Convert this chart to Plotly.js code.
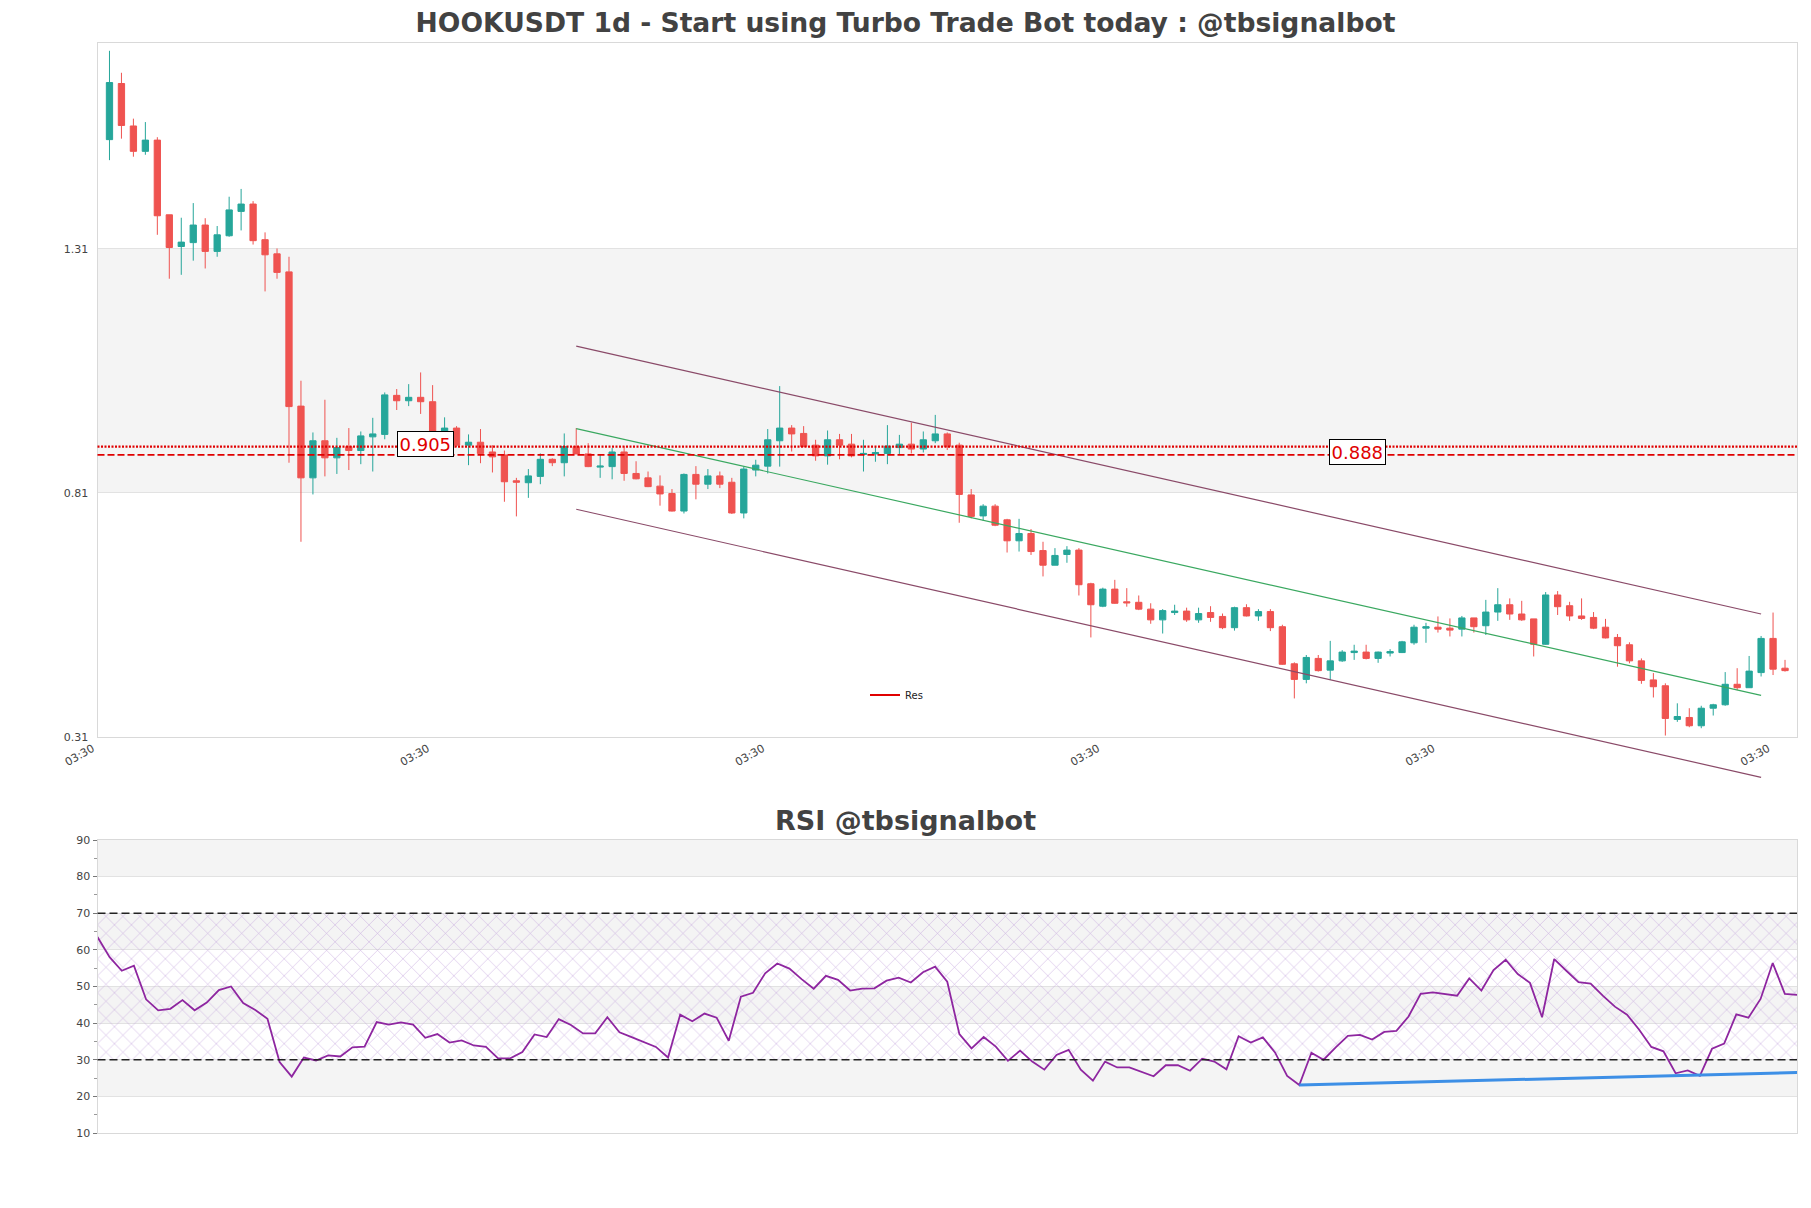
<!DOCTYPE html>
<html>
<head>
<meta charset="utf-8">
<script src="https://cdn.plot.ly/plotly-3.0.1.min.js"></script>
<style>html,body{margin:0;padding:0;background:#fff;}#chart{width:1811px;height:1208px;}</style>
</head>
<body>
<div id="chart"></div>
<script>
// ---------------- data ----------------
const startDate = '2024-03-30';          // first daily candle (03:30 local)
const open = [1.534,1.649,1.562,1.510,1.533,1.380,1.315,1.323,1.359,1.305, 1.337,1.387,1.402,1.329,1.300,1.263,0.988,0.841,0.917,0.882, 0.905,0.897,0.925,0.930,1.010,0.999,1.006,0.997,0.936,0.943, 0.908,0.914,0.894,0.888,0.835,0.831,0.844,0.879,0.872,0.905, 0.890,0.863,0.864,0.894,0.850,0.841,0.824,0.809,0.773,0.848, 0.828,0.845,0.832,0.769,0.857,0.865,0.917,0.943,0.932,0.908, 0.886,0.919,0.910,0.889,0.890,0.891,0.903,0.910,0.900,0.917, 0.931,0.908,0.806,0.763,0.783,0.755,0.712,0.727,0.692,0.662, 0.684,0.693,0.624,0.578,0.613,0.587,0.586,0.572,0.550,0.565, 0.568,0.550,0.565,0.557,0.534,0.575,0.558,0.567,0.536,0.460, 0.428,0.471,0.447,0.466,0.483,0.484,0.471,0.482,0.483,0.503, 0.533,0.535,0.533,0.531,0.554,0.538,0.566,0.581,0.562,0.552, 0.500,0.601,0.579,0.558,0.555,0.535,0.514,0.499,0.466,0.427, 0.415,0.346,0.350,0.333,0.369,0.376,0.418,0.411,0.442,0.512, 0.451];
const high = [1.716,1.671,1.577,1.570,1.539,1.380,1.374,1.404,1.373,1.357, 1.417,1.433,1.408,1.344,1.311,1.294,1.040,0.934,1.001,0.923, 0.943,0.936,0.964,1.016,1.023,1.033,1.057,1.031,0.965,0.947, 0.930,0.941,0.908,0.897,0.841,0.859,0.891,0.881,0.932,0.943, 0.912,0.889,0.902,0.906,0.875,0.854,0.846,0.818,0.850,0.865, 0.859,0.854,0.841,0.864,0.878,0.941,1.029,0.949,0.947,0.919, 0.938,0.931,0.931,0.919,0.905,0.949,0.929,0.954,0.936,0.970, 0.934,0.913,0.818,0.787,0.787,0.757,0.757,0.736,0.710,0.697, 0.701,0.697,0.626,0.616,0.632,0.615,0.600,0.584,0.572,0.581, 0.575,0.575,0.578,0.563,0.577,0.582,0.572,0.572,0.540,0.463, 0.478,0.478,0.507,0.488,0.499,0.499,0.485,0.490,0.507,0.540, 0.544,0.557,0.553,0.558,0.554,0.591,0.615,0.594,0.589,0.552, 0.607,0.609,0.587,0.594,0.566,0.552,0.521,0.504,0.471,0.441, 0.420,0.379,0.369,0.374,0.378,0.443,0.451,0.476,0.517,0.565, 0.468];
const low = [1.492,1.536,1.499,1.503,1.339,1.249,1.257,1.286,1.270,1.294, 1.335,1.348,1.319,1.223,1.249,0.872,0.710,0.807,0.844,0.849, 0.857,0.869,0.854,0.920,0.980,0.988,0.972,0.919,0.927,0.904, 0.867,0.871,0.852,0.792,0.762,0.800,0.828,0.865,0.844,0.890, 0.863,0.841,0.838,0.835,0.838,0.822,0.784,0.772,0.768,0.797, 0.818,0.820,0.767,0.758,0.844,0.850,0.864,0.895,0.904,0.876, 0.868,0.879,0.883,0.854,0.874,0.869,0.890,0.891,0.893,0.912, 0.898,0.749,0.758,0.753,0.742,0.688,0.690,0.683,0.639,0.662, 0.667,0.600,0.514,0.576,0.583,0.577,0.570,0.542,0.522,0.560, 0.546,0.544,0.546,0.531,0.528,0.557,0.548,0.527,0.458,0.389, 0.420,0.444,0.427,0.464,0.468,0.469,0.462,0.475,0.482,0.499, 0.503,0.524,0.516,0.516,0.524,0.519,0.548,0.550,0.548,0.475, 0.499,0.560,0.548,0.550,0.531,0.512,0.454,0.461,0.419,0.391, 0.313,0.341,0.330,0.328,0.354,0.374,0.406,0.411,0.434,0.437, 0.444];
const close = [1.651,1.563,1.510,1.533,1.378,1.313,1.324,1.359,1.305,1.339, 1.390,1.402,1.327,1.298,1.262,0.987,0.841,0.917,0.882,0.903, 0.897,0.927,0.931,1.011,0.999,1.006,0.997,0.936,0.943,0.908, 0.914,0.891,0.884,0.833,0.832,0.845,0.879,0.872,0.905,0.890, 0.864,0.865,0.894,0.850,0.839,0.823,0.808,0.773,0.848,0.828, 0.845,0.828,0.769,0.859,0.867,0.919,0.943,0.931,0.905,0.886, 0.919,0.908,0.886,0.891,0.893,0.906,0.910,0.900,0.919,0.931, 0.905,0.807,0.762,0.783,0.744,0.712,0.727,0.690,0.662,0.682, 0.693,0.622,0.581,0.613,0.584,0.585,0.572,0.550,0.569,0.568, 0.550,0.563,0.555,0.534,0.575,0.558,0.567,0.534,0.459,0.428, 0.473,0.446,0.466,0.484,0.486,0.471,0.484,0.485,0.505,0.535, 0.536,0.531,0.529,0.554,0.536,0.566,0.581,0.562,0.550,0.500, 0.601,0.577,0.558,0.553,0.533,0.513,0.497,0.466,0.426,0.413, 0.348,0.352,0.333,0.369,0.376,0.418,0.411,0.445,0.512,0.449, 0.446];
const rsi = [63.5,58.0,54.3,55.7,46.5,43.5,43.9,46.3,43.5,45.6, 49.0,50.0,45.5,43.6,41.2,29.4,25.4,30.6,29.8,31.2, 30.9,33.4,33.6,40.3,39.6,40.2,39.6,36.0,37.0,34.7, 35.3,33.9,33.5,30.4,30.4,32.1,36.9,36.2,41.1,39.5, 37.2,37.2,41.6,37.5,36.2,34.8,33.5,30.6,42.3,40.5, 42.6,41.5,35.2,47.2,48.3,53.6,56.3,54.9,52.0,49.4, 52.9,51.8,48.9,49.4,49.5,51.6,52.4,51.1,53.9,55.4, 51.3,37.0,33.1,36.2,33.6,29.7,32.5,29.5,27.3,31.3, 32.7,27.3,24.3,29.5,27.9,27.9,26.7,25.5,28.5,28.5, 27.0,30.3,29.5,27.4,36.4,34.7,36.1,32.0,25.6,23.1, 31.9,30.0,33.4,36.5,36.8,35.5,37.6,37.9,41.8,48.0, 48.4,47.9,47.5,52.2,48.9,54.5,57.3,53.4,51.0,41.6, 57.5,54.3,51.2,50.8,47.5,44.5,42.3,38.2,33.5,32.3, 26.3,27.1,25.6,33.0,34.4,42.4,41.5,46.6,56.4,48.0, 47.7];

const priceTicks = [0.31, 0.81, 1.31];
const priceTickText = ['0.31', '0.81', '1.31'];
const rsiTicks = [10, 20, 30, 40, 50, 60, 70, 80, 90];
const rsiMinorTicks = [15, 25, 35, 45, 55, 65, 75, 85];
const rsiBounds = [30, 70];

const resLevels = [0.905, 0.888];
const resLabels = ['0.905', '0.888'];
const resLabelDay = [26.4, 104.3];         // label centre, days after first candle

const channelIdx = [39, 138];              // candle indices where the channel starts / ends
const channelUpper = [1.111, 0.562];
const channelMid = [0.9417, 0.3954];
const channelLower = [0.7766, 0.2274];

const rsiTrendIdx = [99, 140];
const rsiTrendVal = [23.1, 26.5];

// ---------------- helpers ----------------
function dayStr(offsetDays) {
  const d = new Date(Date.parse(startDate + 'T03:30:00Z') + offsetDays * 86400000);
  return d.toISOString().slice(0, 19).replace('T', ' ');
}
const n = open.length;
const dates = open.map((_, i) => dayStr(i));

const W = 1811, H = 1208;
const pxX = p => p / W;
const pxY = p => (H - p) / H;
const xDomain = [pxX(97.5), pxX(1797)];
const mainTopPx = 43, mainBotPx = 737, rsiTopPx = 840, rsiBotPx = 1133;
const mainDom = [pxY(mainBotPx), pxY(mainTopPx)];
const rsiDom = [pxY(rsiBotPx), pxY(rsiTopPx)];
const priceRange = [0.31, 1.732];
// helper axis with the same scale as the price axis, extended downwards so channel lines are not clipped
const extBotPx = 795;
const unitsPerPx = (priceRange[1] - priceRange[0]) / (mainBotPx - mainTopPx);
const chanRange = [priceRange[0] - (extBotPx - mainBotPx) * unitsPerPx, priceRange[1]];
const chanDom = [pxY(extBotPx), mainDom[1]];

const FONT = 'DejaVu Sans, Verdana, sans-serif';
const GREEN = '#26a69a', RED = '#ef5350', LEVEL = '#e00000';

// ---------------- traces ----------------
const traces = [];
traces.push({
  type: 'candlestick', x: dates, open: open, high: high, low: low, close: close,
  xaxis: 'x', yaxis: 'y', whiskerwidth: 0, hoverinfo: 'skip', showlegend: false,
  increasing: {line: {color: GREEN, width: 1}, fillcolor: GREEN},
  decreasing: {line: {color: RED, width: 1}, fillcolor: RED}
});
const chanX = [dates[channelIdx[0]], dates[channelIdx[1]]];
[[channelUpper, '#8a4a68'], [channelMid, '#3aa860'], [channelLower, '#8a4a68']].forEach(([ys, c]) => {
  traces.push({type: 'scatter', mode: 'lines', x: chanX, y: ys, xaxis: 'x', yaxis: 'y3',
    line: {color: c, width: 1.2}, hoverinfo: 'skip', showlegend: false});
});
// legend entry
traces.push({type: 'scatter', mode: 'lines', x: [null], y: [null], xaxis: 'x', yaxis: 'y',
  name: 'Res', line: {color: LEVEL, width: 2}, showlegend: true, hoverinfo: 'skip'});

// RSI hatched zone
const rsiX = dates;
const rsiEnds = [rsiX[0], rsiX[n - 1]];
traces.push({type: 'scatter', mode: 'lines', x: rsiEnds, y: [rsiBounds[0], rsiBounds[0]], xaxis: 'x2', yaxis: 'y2',
  line: {width: 0}, hoverinfo: 'skip', showlegend: false});
traces.push({type: 'scatter', mode: 'lines', x: rsiEnds, y: [rsiBounds[1], rsiBounds[1]], xaxis: 'x2', yaxis: 'y2',
  line: {width: 0}, fill: 'tonexty', fillcolor: 'rgba(200,170,225,0.5)',
  fillpattern: {shape: 'x', fgcolor: 'rgba(185,150,215,0.75)', bgcolor: 'rgba(0,0,0,0)', size: 12, solidity: 0.09},
  hoverinfo: 'skip', showlegend: false});
traces.push({type: 'scatter', mode: 'lines', x: rsiX, y: rsi, xaxis: 'x2', yaxis: 'y2',
  line: {color: '#8e26a0', width: 1.8}, hoverinfo: 'skip', showlegend: false});
traces.push({type: 'scatter', mode: 'lines', x: [rsiX[rsiTrendIdx[0]], rsiX[rsiTrendIdx[1]]], y: rsiTrendVal,
  xaxis: 'x2', yaxis: 'y2', line: {color: '#3d8fe6', width: 3}, hoverinfo: 'skip', showlegend: false});

// ---------------- shapes & annotations ----------------
const shapes = [];
function bands(ticks, yref, xref, lo, hi) {
  for (let i = 0; i < ticks.length; i++) {
    if (i % 2 === 1) {
      const y0 = ticks[i];
      const y1 = i + 1 < ticks.length ? ticks[i + 1] : hi;
      shapes.push({type: 'rect', xref: xref, yref: yref, x0: 0, x1: 1, y0: y0, y1: Math.min(y1, hi),
        fillcolor: '#f4f4f4', line: {width: 0}, layer: 'below'});
    }
  }
}
bands(priceTicks, 'y', 'x domain', priceRange[0], priceRange[1]);
bands(rsiTicks, 'y2', 'x2 domain', 10, 90);

resLevels.forEach((lv, i) => {
  shapes.push({type: 'line', xref: 'x domain', yref: 'y', x0: 0, x1: 1, y0: lv, y1: lv,
    line: {color: LEVEL, width: i === 0 ? 2.2 : 1.8, dash: i === 0 ? '2px,1.5px' : '7px,3px'}});
});
rsiBounds.forEach(v => {
  shapes.push({type: 'line', xref: 'x2 domain', yref: 'y2', x0: 0, x1: 1, y0: v, y1: v,
    line: {color: '#222', width: 1.3, dash: '8px,4px'}});
});

const annotations = [];
resLevels.forEach((lv, i) => {
  annotations.push({x: dayStr(resLabelDay[i]), y: lv, xref: 'x', yref: 'y', text: resLabels[i],
    showarrow: false, xanchor: 'center', yanchor: 'middle', yshift: 2.5, bgcolor: '#ffffff',
    bordercolor: '#000', borderwidth: 1, borderpad: 1.5,
    font: {family: FONT, size: 18, color: LEVEL}});
});
annotations.push({text: '<b>RSI @tbsignalbot</b>', xref: 'paper', yref: 'paper', x: 0.5, y: pxY(820),
  xanchor: 'center', yanchor: 'middle', showarrow: false, font: {family: FONT, size: 27, color: '#424242'}});

const tickFont = {family: FONT, size: 11, color: '#444'};
const frame = {showline: true, mirror: true, linecolor: '#d9d9d9', linewidth: 1, zeroline: false};

const layout = {
  width: W, height: H,
  margin: {l: 0, r: 0, t: 0, b: 0, pad: 0},
  paper_bgcolor: '#ffffff', plot_bgcolor: 'rgba(0,0,0,0)',
  font: {family: FONT, color: '#444'},
  title: {text: '<b>HOOKUSDT 1d - Start using Turbo Trade Bot today : @tbsignalbot</b>',
    x: 0.5, xanchor: 'center', xref: 'paper', y: pxY(23), yref: 'container', yanchor: 'middle',
    font: {family: FONT, size: 26.6, color: '#424242'}},
  boxgap: 0.3, boxgroupgap: 0.25,
  showlegend: true,
  legend: {x: pxX(865), y: pxY(695), xanchor: 'left', yanchor: 'middle', bgcolor: 'rgba(0,0,0,0)',
    font: {family: FONT, size: 10, color: '#222'}, itemwidth: 30},
  xaxis: Object.assign({domain: xDomain, anchor: 'y', type: 'date',
    range: [dayStr(-1), dayStr(n)], tick0: dayStr(-1), dtick: 28 * 86400000, tickformat: '%H:%M',
    tickangle: -30, tickfont: tickFont, ticklabelshift: -5, showgrid: false, ticks: '',
    rangeslider: {visible: false}}, frame),
  yaxis: Object.assign({domain: mainDom, anchor: 'x', range: priceRange, tickvals: priceTicks, ticktext: priceTickText,
    tickfont: tickFont, ticklabelstandoff: 6, showgrid: true, gridcolor: '#e2e2e2', gridwidth: 1, ticks: ''}, frame),
  yaxis3: {domain: chanDom, anchor: 'x', range: chanRange, visible: false, showgrid: false, zeroline: false},
  xaxis2: Object.assign({domain: xDomain, anchor: 'y2', type: 'date', range: rsiEnds,
    showticklabels: false, showgrid: false, ticks: ''}, frame),
  yaxis2: Object.assign({domain: rsiDom, anchor: 'x2', range: [10, 90], tickvals: rsiTicks,
    tickfont: tickFont, showgrid: true, gridcolor: '#e2e2e2', ticks: 'outside', ticklen: 4, tickcolor: '#777',
    minor: {tickvals: rsiMinorTicks, ticks: 'outside', ticklen: 3, tickcolor: '#999', showgrid: false}}, frame),
  shapes: shapes,
  annotations: annotations
};

Plotly.newPlot('chart', traces, layout, {staticPlot: true, displayModeBar: false});
</script>
</body>
</html>
